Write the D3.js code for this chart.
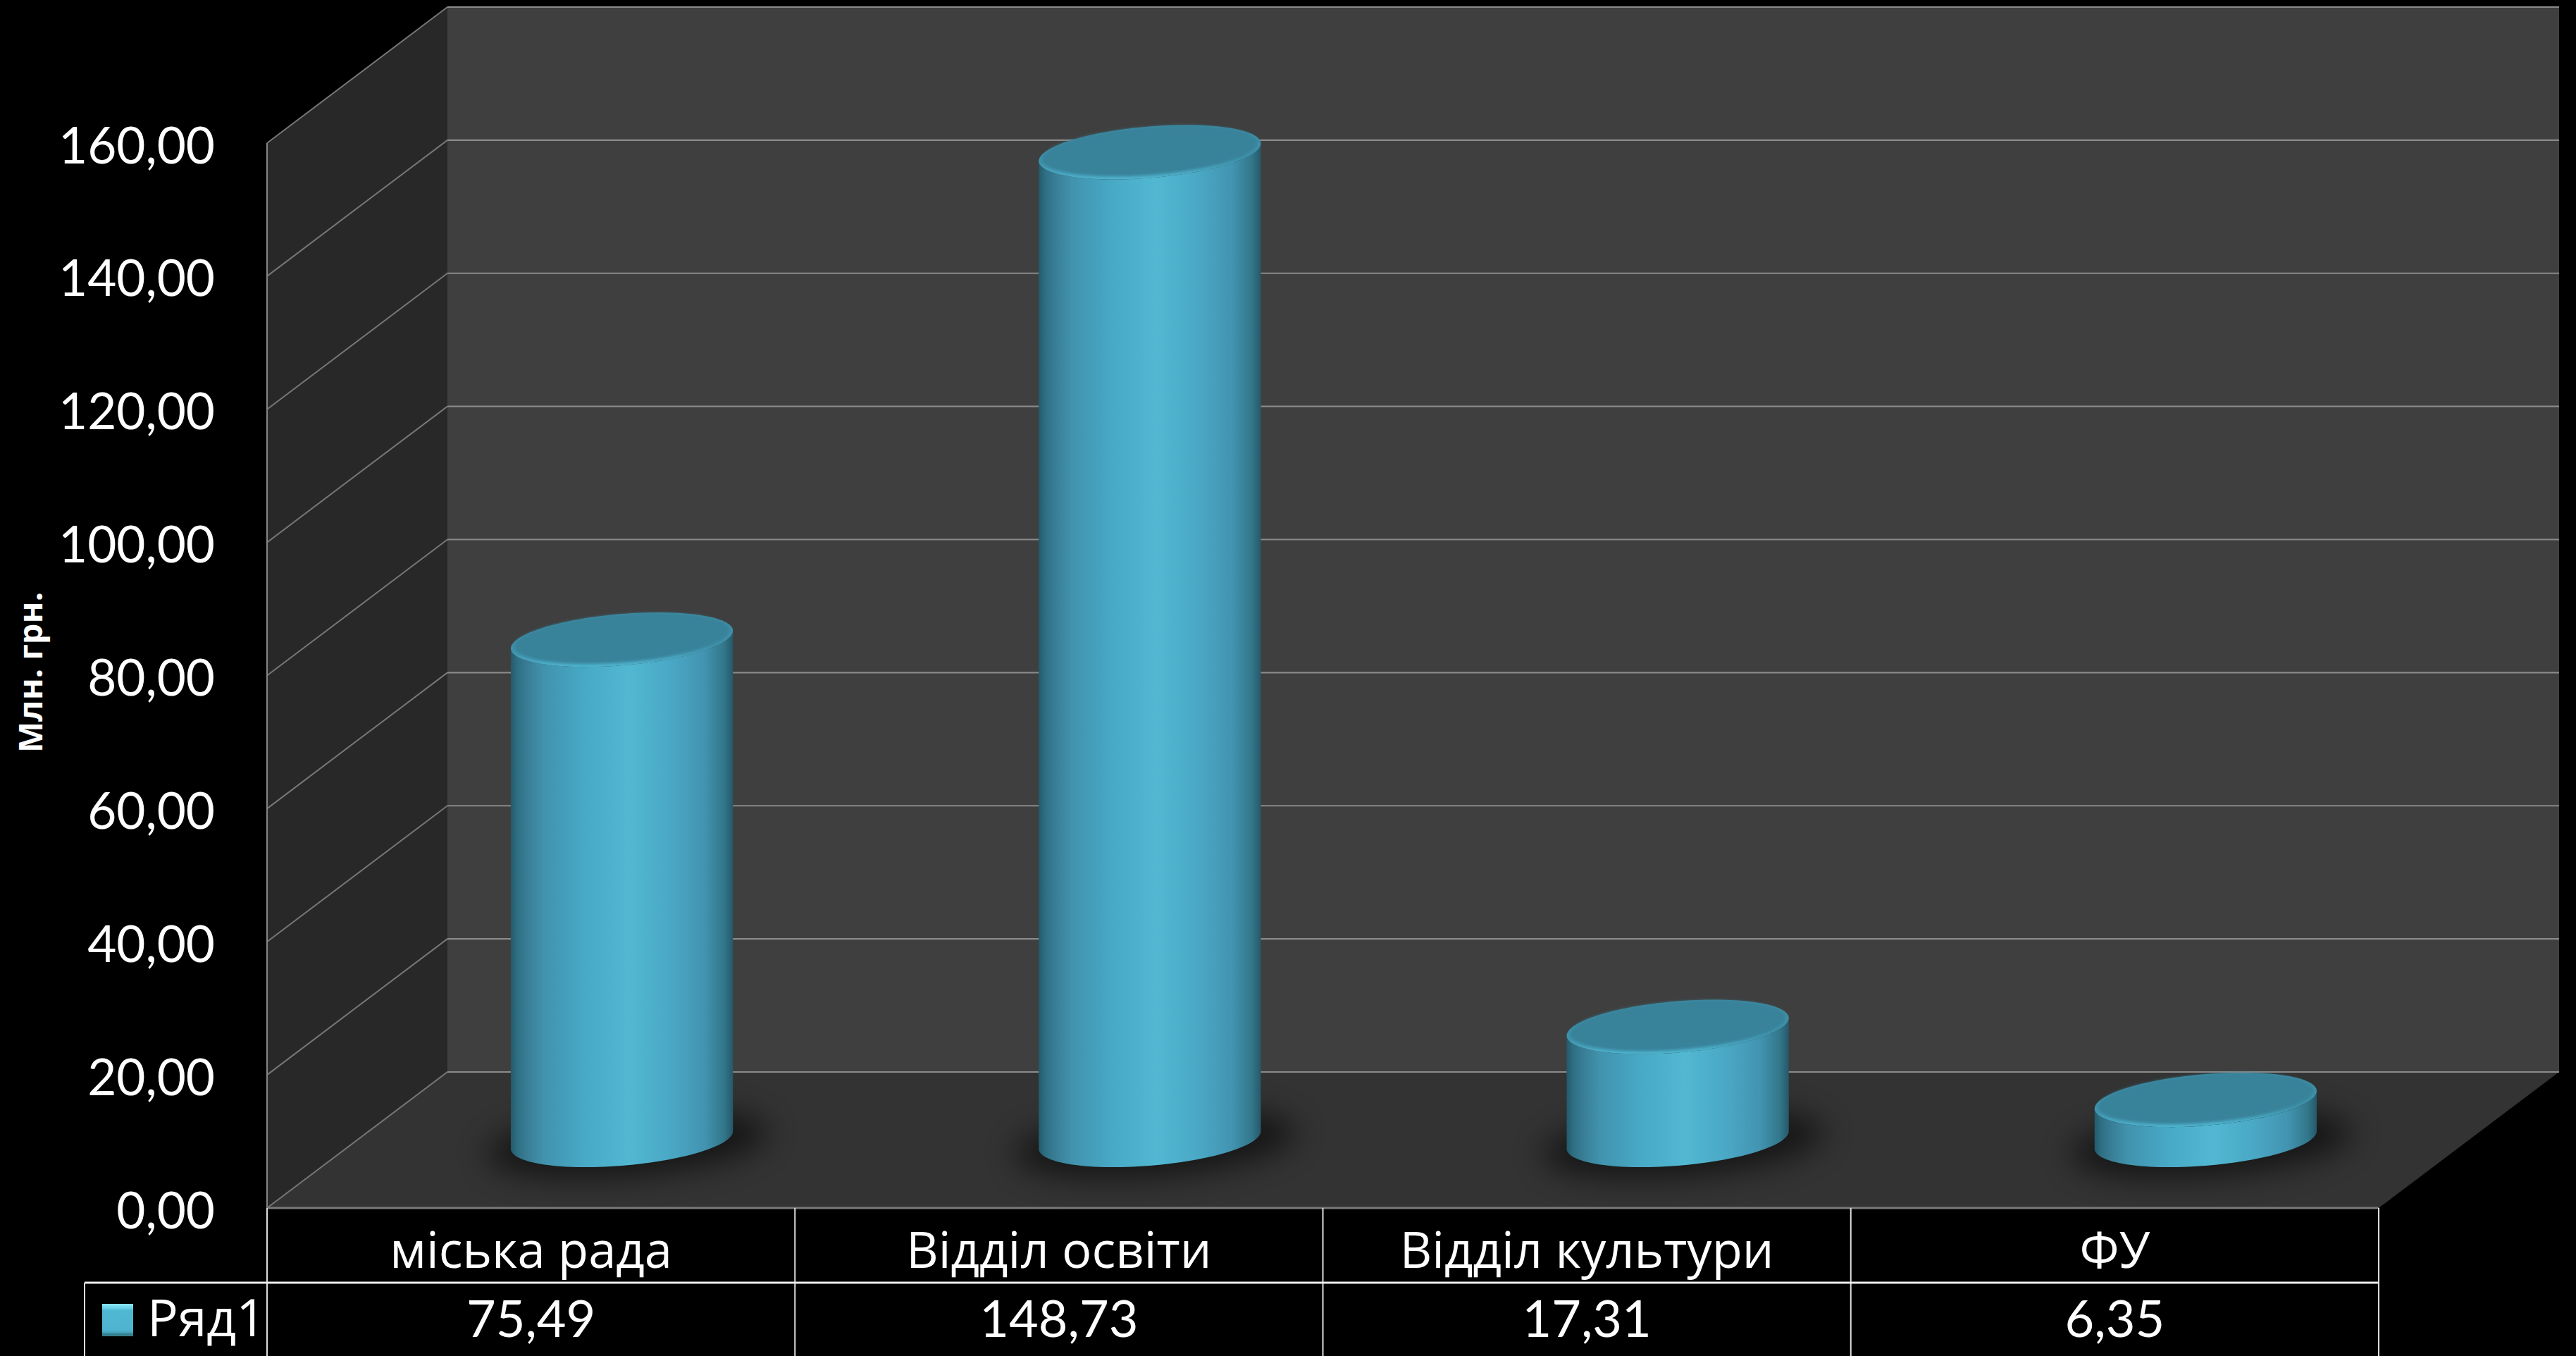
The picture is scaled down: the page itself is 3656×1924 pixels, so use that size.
<!DOCTYPE html>
<html><head><meta charset="utf-8">
<script src="https://cdn.jsdelivr.net/npm/d3@7"></script>
<style>html,body{margin:0;background:#000;overflow:hidden}svg{display:block}text{font-family:Lato,"Open Sans",sans-serif;fill:#fff}</style>
</head><body><svg id="c" width="3656" height="1924"></svg>
<script>
const categories = ["міська рада","Відділ освіти","Відділ культури","ФУ"];
const values = [75.49,148.73,17.31,6.35];
const yTicks = [0,20,40,60,80,100,120,140,160];
const seriesName = "Ряд1";
const yTitle = "Млн. грн.";

const W=3656,H=1924;
const svg=d3.select("#c");
const x0=379,x1=3376,y0=1714,yTop=203,DX=256,DY=-193;
const x=d3.scaleBand().domain(categories).range([x0,x1]);
const y=d3.scaleLinear().domain([0,160]).range([y0,yTop]);
const fmt=d3.formatLocale({decimal:",",thousands:" ",grouping:[3],currency:["",""]}).format(".2f");
const P=a=>a.map(p=>p.join(",")).join(" ");

const defs=svg.append("defs");
const body=defs.append("linearGradient").attr("id","body");
[[0,"#245a6a"],[.03,"#2f6f84"],[.08,"#3a7f97"],[.15,"#4193ae"],[.33,"#47a9c6"],[.53,"#52b8d2"],[.72,"#4aa8c5"],[.87,"#4294b1"],[.96,"#33768a"],[1,"#24596a"]]
 .forEach(s=>body.append("stop").attr("offset",s[0]).attr("stop-color",s[1]));
const rim=defs.append("linearGradient").attr("id","rim").attr("x1",0).attr("y1",0).attr("x2",.12).attr("y2",1);
[[0,"#3c899f"],[.7,"#3f93ad"],[1,"#4fb4cf"]].forEach(s=>rim.append("stop").attr("offset",s[0]).attr("stop-color",s[1]));
const key=defs.append("linearGradient").attr("id","key").attr("x1",0).attr("y1",0).attr("x2",0).attr("y2",1);
[[0,"#8be6fa"],[.14,"#66cfe6"],[.2,"#50b8d2"],[.8,"#4fb4cf"],[.9,"#44a0b8"],[.91,"#35808f"],[1,"#35808f"]].forEach(s=>key.append("stop").attr("offset",s[0]).attr("stop-color",s[1]));
defs.append("filter").attr("id","blurS").attr("x","-50%").attr("y","-100%").attr("width","200%").attr("height","300%")
 .append("feGaussianBlur").attr("stdDeviation",22);
defs.append("filter").attr("id","blurT").attr("x","-10%").attr("y","-20%").attr("width","120%").attr("height","140%")
 .append("feGaussianBlur").attr("stdDeviation",2.2);

// walls
svg.append("polygon").attr("fill","#3f3f3f").attr("points",P([[x0+DX,y(160)+DY],[x1+DX,y(160)+DY],[x1+DX,y0+DY],[x0+DX,y0+DY]]));
svg.append("polygon").attr("fill","#282828").attr("points",P([[x0,y(160)],[x0+DX,y(160)+DY],[x0+DX,y0+DY],[x0,y0]]));
svg.append("polygon").attr("fill","#333333").attr("points",P([[x0,y0],[x1,y0],[x1+DX,y0+DY],[x0+DX,y0+DY]]));

// grid
const g=svg.append("g");
g.selectAll(".b").data(yTicks).join("line").attr("x1",x0+DX).attr("x2",x1+DX)
 .attr("y1",d=>y(d)+DY).attr("y2",d=>y(d)+DY).attr("stroke","#8a8a8a").attr("stroke-width",2.2);
g.selectAll(".s").data(yTicks).join("line").attr("x1",x0).attr("x2",x0+DX)
 .attr("y1",d=>y(d)).attr("y2",d=>y(d)+DY).attr("stroke","#777").attr("stroke-width",2);
g.append("line").attr("x1",x0).attr("x2",x0).attr("y1",y(160)).attr("y2",y0).attr("stroke","#858585").attr("stroke-width",2);
g.append("line").attr("x1",x0).attr("x2",x1).attr("y1",y0).attr("y2",y0).attr("stroke","#7a7a7a").attr("stroke-width",3);

// cylinders
const ax=x.bandwidth()*.199, bd=.2, capInset=3;
const ell=(cx,cy)=>d3.range(0,361,3).map(t=>{const r=t*Math.PI/180;
  return [cx+ax*Math.cos(r)+bd*DX*Math.sin(r), cy+bd*DY*Math.sin(r)];});
const t0=Math.atan2(bd*DX,ax);
const arcFront=(cx,cy)=>d3.range(0,181,3).map(d=>{const r=t0-d*Math.PI/180;
  return [cx+ax*Math.cos(r)+bd*DX*Math.sin(r), cy+bd*DY*Math.sin(r)];});
const line=d3.line().curve(d3.curveLinearClosed);
const bars=svg.selectAll(".bar").data(categories.map((c,i)=>({c,v:values[i]}))).join("g");
bars.each(function(d){
  const s=d3.select(this);
  const cx=x(d.c)+x.bandwidth()/2+DX/2+1, cy=y(0)+DY/2, ty=y(d.v)+DY/2+capInset;
  s.append("path").attr("filter","url(#blurS)").attr("fill","#000").attr("opacity",.58)
    .attr("d",line(ell(0,0).map(q=>[cx+8+q[0]*1.27, cy+5+q[1]*1.25])));
  const b=arcFront(cx,cy), u=arcFront(cx,ty).reverse();
  s.append("path").attr("fill","url(#body)").attr("d",line(b.concat(u)));
  s.append("path").attr("fill","url(#rim)").attr("d",line(ell(cx,ty)));
  s.append("path").attr("fill","#39829a").attr("filter","url(#blurT)")
    .attr("d",line(ell(0,0).map(p=>[cx+p[0]*.97,ty-1.5+p[1]*.93])));
});

// y axis
const ya=svg.append("g").attr("transform",`translate(305,28)`).call(d3.axisLeft(y).tickValues(yTicks).tickFormat(fmt).tickSize(0).tickPadding(0));
ya.select(".domain").remove();
ya.selectAll("text").attr("font-size",71).attr("dy",0).attr("text-anchor","end").style("font-family","Lato,'Open Sans',sans-serif");
svg.append("text").attr("transform","translate(60,1068) rotate(-90)").attr("font-size",47).attr("font-weight",700).style("font-family","'Open Sans',sans-serif").text(yTitle);

// data table
const rowY=1820, tc="#dcdcdc";
const colEdges=[x0,...categories.map(c=>x(c)+x.bandwidth())];
svg.selectAll(".v").data(colEdges).join("line").attr("x1",d=>d).attr("x2",d=>d).attr("y1",y0).attr("y2",H).attr("stroke",tc).attr("stroke-width",2);
svg.append("line").attr("x1",120).attr("x2",x1).attr("y1",rowY).attr("y2",rowY).attr("stroke","#eee").attr("stroke-width",3);
svg.append("line").attr("x1",120).attr("x2",120).attr("y1",rowY).attr("y2",H).attr("stroke",tc).attr("stroke-width",2);
svg.selectAll(".cat").data(categories).join("text").attr("x",d=>x(d)+x.bandwidth()/2).attr("y",1799)
  .attr("text-anchor","middle").attr("font-size",70.5).style("font-family","'Open Sans',sans-serif").text(d=>d);
svg.selectAll(".val").data(categories.map((c,i)=>[c,values[i]])).join("text").attr("x",d=>x(d[0])+x.bandwidth()/2).attr("y",1897)
  .attr("text-anchor","middle").attr("font-size",72).text(d=>fmt(d[1]));
svg.append("rect").attr("x",145).attr("y",1850).attr("width",44).attr("height",46).attr("fill","url(#key)");
svg.append("text").attr("x",209).attr("y",1896).attr("font-size",73).style("font-family","'Open Sans',sans-serif").text(seriesName);
</script></body></html>
